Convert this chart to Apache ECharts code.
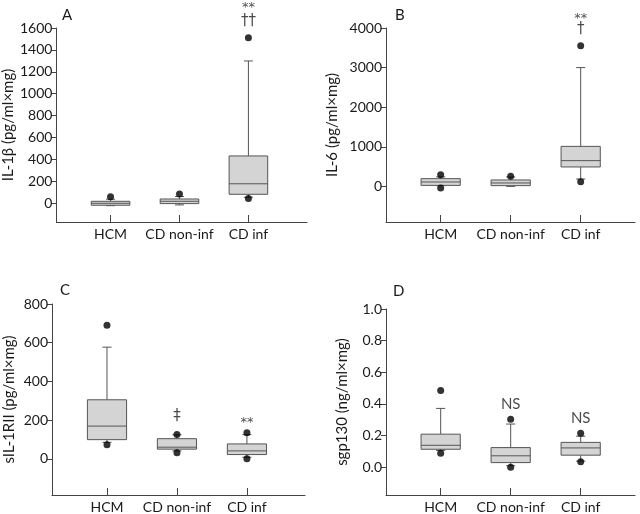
<!DOCTYPE html>
<html>
<head>
<meta charset="utf-8">
<script src="https://cdn.jsdelivr.net/npm/echarts@6/dist/echarts.min.js"></script>
<style>html,body{margin:0;padding:0;background:#fff}#c{width:640px;height:514px}</style>
</head>
<body>
<div id="c"></div>
<script>
// ---- data ----
const categories = ['HCM', 'CD non-inf', 'CD inf'];
// boxes: [lowWhisker, q1, median, q3, highWhisker]
const boxA = [[-22, -18, 0, 18, 37], [-15, -3, 18, 39, 62], [55, 82, 178, 432, 1299]];
const boxB = [[18, 25, 111, 195, 240], [0, 18, 86, 162, 237], [185, 490, 650, 1010, 3000]];
const boxC = [[85, 99, 169, 305, 577], [41, 50, 60, 104, 124], [8, 22, 41, 77, 125]];
const boxD = [[0.105, 0.1125, 0.1375, 0.208, 0.371], [0.008, 0.028, 0.071, 0.123, 0.272], [0.037, 0.075, 0.121, 0.156, 0.195]];
// points: [categoryNumber, value]
const dotsA = [[1, 60], [2, 85], [3, 1510], [3, 43]];
const dotsB = [[1, 296], [1, -40], [2, 255], [3, 3550], [3, 118]];
const dotsC = [[1, 690], [1, 73], [2, 126], [2, 31], [3, 135], [3, 0]];
const dotsD = [[1, 0.485], [1, 0.0875], [2, 0.303], [2, -0.002], [3, 0.213], [3, 0.034]];
// annotations: [categoryNumber, value, text]
const notesA = [[3, 1790, '**'], [3, 1662, '††']];
const notesB = [[3, 4230, '**'], [3, 3972, '†']];
const notesC = [[2, 220, '‡'], [3, 188, '**']];
const notesD = [[2, 0.398, 'NS'], [3, 0.309, 'NS']];
// tick labels
const ticksA = [0, 200, 400, 600, 800, 1000, 1200, 1400, 1600];
const ticksB = [0, 1000, 2000, 3000, 4000];
const ticksC = [0, 200, 400, 600, 800];
const ticksD = [0, 0.2, 0.4, 0.6, 0.8, 1.0];
const yNames = ['IL-1β (pg/ml×mg)', 'IL-6 (pg/ml×mg)', 'sIL-1RII (pg/ml×mg)', 'sgp130 (ng/ml×mg)'];
const panelLetters = ['A', 'B', 'C', 'D'];

// ---- layout ----
const FONT = 'Lato';
const TXT = '#1a1a1a';
const LINE = '#444';
const panels = [
  {box: boxA, dots: dotsA, notes: notesA, ticks: ticksA, min: -171, max: 1600, xmin: 0.214, xmax: 3.85,
   grid: {left: 52, top: 28, width: 255, height: 194}, gap: 37, dec: 0, letter: [62, 17]},
  {box: boxB, dots: dotsB, notes: notesB, ticks: ticksB, min: -900, max: 4000, xmin: 0.219, xmax: 3.776,
   grid: {left: 386, top: 28, width: 249, height: 194}, gap: 46, dec: 0, letter: [395, 17]},
  {box: boxC, dots: dotsC, notes: notesC, ticks: ticksC, min: -187, max: 800, xmin: 0.214, xmax: 3.83,
   grid: {left: 52, top: 304, width: 253, height: 193}, gap: 35, dec: 0, letter: [60, 292]},
  {box: boxD, dots: dotsD, notes: notesD, ticks: ticksD, min: -0.177, max: 1.0, xmin: 0.219, xmax: 3.776,
   grid: {left: 386, top: 309, width: 249, height: 188}, gap: 36, dec: 1, letter: [393, 293]}
];

const BOXW = 0.28;  // half box width in category units
const CAPW = 0.065; // half cap width

function renderBox(params, api) {
  const x = api.value(0);
  const lo = api.value(1), q1 = api.value(2), md = api.value(3), q3 = api.value(4), hi = api.value(5);
  const pLo = api.coord([x, lo]), pQ1 = api.coord([x, q1]), pMd = api.coord([x, md]);
  const pQ3 = api.coord([x, q3]), pHi = api.coord([x, hi]);
  const xl = api.coord([x - BOXW, 0])[0], xr = api.coord([x + BOXW, 0])[0];
  const cl = api.coord([x - CAPW, 0])[0], cr = api.coord([x + CAPW, 0])[0];
  const ls = {stroke: '#555', lineWidth: 1};
  return {
    type: 'group',
    children: [
      {type: 'line', shape: {x1: pHi[0], y1: pHi[1], x2: pQ3[0], y2: pQ3[1]}, style: ls},
      {type: 'line', shape: {x1: pLo[0], y1: pLo[1], x2: pQ1[0], y2: pQ1[1]}, style: ls},
      {type: 'line', shape: {x1: cl, y1: pHi[1], x2: cr, y2: pHi[1]}, style: ls},
      {type: 'line', shape: {x1: cl, y1: pLo[1], x2: cr, y2: pLo[1]}, style: ls},
      {type: 'rect', shape: {x: xl, y: pQ3[1], width: xr - xl, height: pQ1[1] - pQ3[1]},
        style: {fill: '#d4d4d4', stroke: '#555', lineWidth: 1}},
      {type: 'line', shape: {x1: xl, y1: pMd[1], x2: xr, y2: pMd[1]}, style: ls}
    ]
  };
}

const option = {
  animation: false,
  backgroundColor: '#fff',
  textStyle: {fontFamily: FONT},
  grid: [], xAxis: [], yAxis: [], series: [],
  graphic: []
};

panels.forEach((p, i) => {
  option.grid.push(Object.assign({containLabel: false}, p.grid));
  option.xAxis.push({
    type: 'value', gridIndex: i, min: p.xmin, max: p.xmax,
    axisLine: {onZero: false, lineStyle: {color: LINE, width: 1}},
    axisTick: {show: true, inside: true, length: 7, customValues: [1, 2, 3], lineStyle: {color: LINE}},
    axisLabel: {customValues: [1, 2, 3], formatter: v => categories[Math.round(v) - 1] || '',
      color: TXT, fontSize: 14, fontFamily: FONT, margin: 5},
    splitLine: {show: false}
  });
  option.yAxis.push({
    type: 'value', gridIndex: i, min: p.min, max: p.max,
    name: yNames[i], nameLocation: 'middle', nameGap: p.gap, nameRotate: 90,
    nameTextStyle: {color: TXT, fontSize: 15, fontFamily: FONT},
    axisLine: {show: true, onZero: false, lineStyle: {color: LINE, width: 1}},
    axisTick: {show: true, length: 5, customValues: p.ticks, lineStyle: {color: LINE}},
    axisLabel: {customValues: p.ticks, formatter: v => v.toFixed(p.dec),
      color: TXT, fontSize: 14, fontFamily: FONT, margin: 4},
    splitLine: {show: false}
  });
  option.series.push({
    type: 'custom', xAxisIndex: i, yAxisIndex: i, clip: false,
    renderItem: renderBox,
    encode: {x: 0, y: [1, 2, 3, 4, 5]},
    data: p.box.map((b, k) => [k + 1].concat(b)),
    z: 2
  });
  option.series.push({
    type: 'scatter', xAxisIndex: i, yAxisIndex: i, clip: false,
    symbol: 'circle', symbolSize: 7,
    itemStyle: {color: '#000'},
    data: p.dots,
    z: 3
  });
  option.series.push({
    type: 'scatter', xAxisIndex: i, yAxisIndex: i, clip: false,
    symbolSize: 0, silent: true,
    data: p.notes.map(n => ({value: [n[0], n[1]], label: {formatter: n[2],
      fontFamily: n[2] === 'NS' ? FONT : 'DejaVu Sans',
      fontSize: n[2] === '**' ? 13 : 15}})),
    label: {show: true, position: 'inside', color: TXT, fontSize: 15, fontFamily: FONT},
    z: 4
  });
  option.graphic.push({
    type: 'text', left: p.letter[0], top: p.letter[1] - 9,
    style: {text: panelLetters[i], fill: TXT, font: '15px ' + FONT}
  });
});

const chart = echarts.init(document.getElementById('c'), null, {renderer: 'canvas'});
chart.setOption(option);
</script>
</body>
</html>
